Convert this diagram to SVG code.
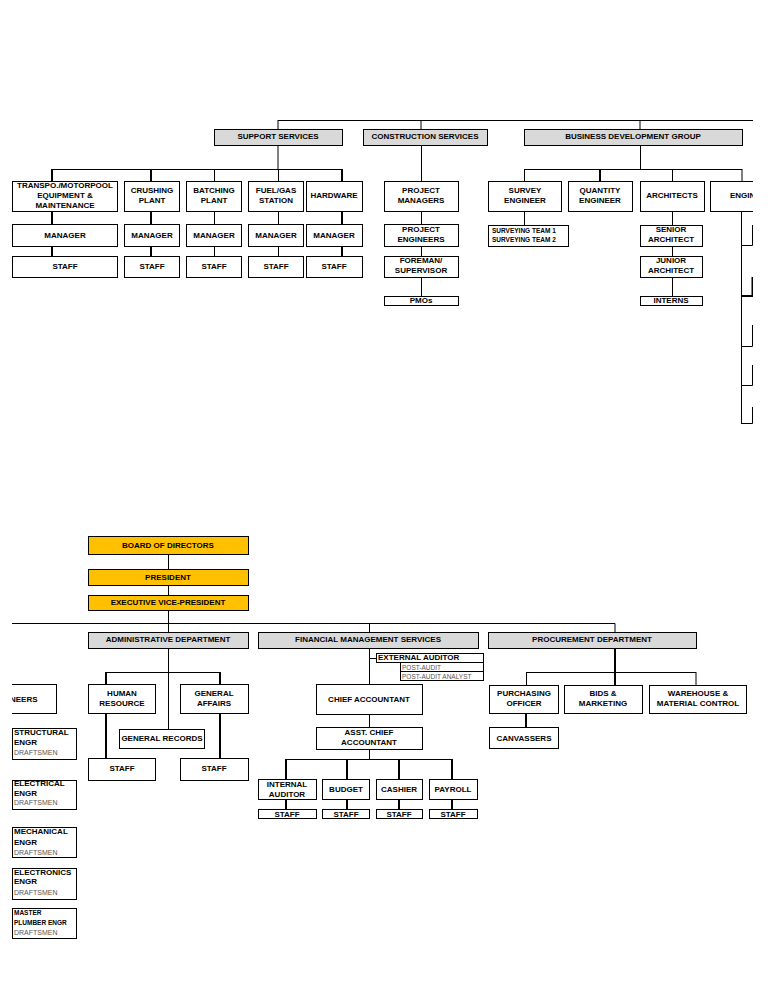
<svg xmlns="http://www.w3.org/2000/svg" width="768" height="1006" viewBox="0 0 768 1006">
<defs>
<clipPath id="clipTop"><rect x="0" y="100" width="753" height="340"/></clipPath>
<clipPath id="clipBot"><rect x="12" y="520" width="756" height="440"/></clipPath>
<style>
.b{fill:#fff;stroke:#000;stroke-width:1}
.g{fill:#d9d9d9;stroke:#000;stroke-width:1}
.y{fill:#ffc000;stroke:#000;stroke-width:1}
.t{font-family:"Liberation Sans",Arial,Helvetica,sans-serif;font-weight:bold;font-size:8px;text-anchor:middle;fill:#000}
.l{text-anchor:start}
.s{font-size:6.5px}
.gr{font-family:"Liberation Sans",Arial,Helvetica,sans-serif;font-size:7px;fill:#555;text-anchor:start}
.c path{fill:none;stroke:#000;stroke-width:1}
.c path.k{stroke-width:2}
</style>
</defs>
<rect width="768" height="1006" fill="#fff"/>

<g id="top" clip-path="url(#clipTop)">
<g id="connectors-top" class="c">
<path d="M278,120.5H753M278,120V129M421,120V129M640,120V129"/>
<path d="M278,145V169M52,169.5H342"/>
<path class="k" d="M52,169V181M52,211V224M52,246V256"/>
<path class="k" d="M151,169V181M151,211V224M151,246V256"/>
<path d="M214.5,169V181M214.5,211V224M214.5,246V256"/>
<path d="M278.5,169V181M278.5,211V224M278.5,246V256"/>
<path class="k" d="M342,169V181M342,211V224M342,246V256"/>
<path d="M421.5,145V181M421.5,211V224M421.5,246V256M421.5,277V297"/>
<path d="M640.5,145V169M524,169.5H742M524.5,169V181M672.5,169V181M742,169V181"/>
<path class="k" d="M600,169V181"/>
<path d="M524.5,211V225M672.5,211V225M672.5,246V256M672.5,277V297"/>
<path d="M741.5,211V423.5"/>
<path d="M741,245.5H752.5V225M741,346.5H752.5V325M741,385.5H752.5V365M741,423.5H752.5V407"/>
<path class="k" d="M741,296H752.5V277"/>
</g>

<g id="support-services"><rect class="g" x="214.5" y="129.5" width="128" height="16"/><text class="t" x="278" y="139">SUPPORT SERVICES</text></g>
<g id="construction-services"><rect class="g" x="363.5" y="129.5" width="124" height="16"/><text class="t" x="425" y="139">CONSTRUCTION SERVICES</text></g>
<g id="business-development"><rect class="g" x="524.5" y="129.5" width="218" height="16"/><text class="t" x="633" y="139">BUSINESS DEVELOPMENT GROUP</text></g>

<g id="transpo"><rect class="b" x="12.5" y="181.5" width="105" height="30"/><text class="t" x="65" y="188">TRANSPO./MOTORPOOL</text><text class="t" x="65" y="198">EQUIPMENT &amp;</text><text class="t" x="65" y="208">MAINTENANCE</text></g>
<g id="crushing"><rect class="b" x="124.5" y="181.5" width="55" height="30"/><text class="t" x="152" y="193">CRUSHING</text><text class="t" x="152" y="203">PLANT</text></g>
<g id="batching"><rect class="b" x="186.5" y="181.5" width="55" height="30"/><text class="t" x="214" y="193">BATCHING</text><text class="t" x="214" y="203">PLANT</text></g>
<g id="fuel"><rect class="b" x="248.5" y="181.5" width="55" height="30"/><text class="t" x="276" y="193">FUEL/GAS</text><text class="t" x="276" y="203">STATION</text></g>
<g id="hardware"><rect class="b" x="306.5" y="181.5" width="56" height="30"/><text class="t" x="334" y="198">HARDWARE</text></g>

<g id="mgr-transpo"><rect class="b" x="12.5" y="224.5" width="105" height="22"/><text class="t" x="65" y="238">MANAGER</text></g>
<g id="mgr-crushing"><rect class="b" x="124.5" y="224.5" width="55" height="22"/><text class="t" x="152" y="238">MANAGER</text></g>
<g id="mgr-batching"><rect class="b" x="186.5" y="224.5" width="55" height="22"/><text class="t" x="214" y="238">MANAGER</text></g>
<g id="mgr-fuel"><rect class="b" x="248.5" y="224.5" width="55" height="22"/><text class="t" x="276" y="238">MANAGER</text></g>
<g id="mgr-hardware"><rect class="b" x="306.5" y="224.5" width="56" height="22"/><text class="t" x="334" y="238">MANAGER</text></g>

<g id="staff-transpo"><rect class="b" x="12.5" y="256.5" width="105" height="21"/><text class="t" x="65" y="269">STAFF</text></g>
<g id="staff-crushing"><rect class="b" x="124.5" y="256.5" width="55" height="21"/><text class="t" x="152" y="269">STAFF</text></g>
<g id="staff-batching"><rect class="b" x="186.5" y="256.5" width="55" height="21"/><text class="t" x="214" y="269">STAFF</text></g>
<g id="staff-fuel"><rect class="b" x="248.5" y="256.5" width="55" height="21"/><text class="t" x="276" y="269">STAFF</text></g>
<g id="staff-hardware"><rect class="b" x="306.5" y="256.5" width="56" height="21"/><text class="t" x="334" y="269">STAFF</text></g>

<g id="project-managers"><rect class="b" x="384.5" y="181.5" width="74" height="30"/><text class="t" x="421" y="193">PROJECT</text><text class="t" x="421" y="203">MANAGERS</text></g>
<g id="project-engineers"><rect class="b" x="384.5" y="224.5" width="74" height="22"/><text class="t" x="421" y="232">PROJECT</text><text class="t" x="421" y="242">ENGINEERS</text></g>
<g id="foreman"><rect class="b" x="384.5" y="256.5" width="74" height="21"/><text class="t" x="421" y="263">FOREMAN/</text><text class="t" x="421" y="273">SUPERVISOR</text></g>
<g id="pmos"><rect class="b" x="384.5" y="296.5" width="74" height="9"/><text class="t" x="421" y="303">PMOs</text></g>

<g id="survey-engineer"><rect class="b" x="488.5" y="181.5" width="73" height="30"/><text class="t" x="525" y="193">SURVEY</text><text class="t" x="525" y="203">ENGINEER</text></g>
<g id="quantity-engineer"><rect class="b" x="568.5" y="181.5" width="64" height="30"/><text class="t" x="600" y="193">QUANTITY</text><text class="t" x="600" y="203">ENGINEER</text></g>
<g id="architects"><rect class="b" x="640.5" y="181.5" width="64" height="30"/><text class="t" x="672" y="198">ARCHITECTS</text></g>
<g id="engineers-top"><rect class="b" x="710.5" y="181.5" width="90" height="30"/><text class="t l" x="730" y="198">ENGIN</text></g>

<g id="surveying-teams"><rect class="b" x="488.5" y="225.5" width="80" height="21"/><text class="t s l" x="492" y="233">SURVEYING TEAM 1</text><text class="t s l" x="492" y="242">SURVEYING TEAM 2</text></g>
<g id="senior-architect"><rect class="b" x="640.5" y="225.5" width="62" height="21"/><text class="t" x="671" y="232">SENIOR</text><text class="t" x="671" y="242">ARCHITECT</text></g>
<g id="junior-architect"><rect class="b" x="640.5" y="256.5" width="62" height="21"/><text class="t" x="671" y="263">JUNIOR</text><text class="t" x="671" y="273">ARCHITECT</text></g>
<g id="interns"><rect class="b" x="640.5" y="296.5" width="62" height="9"/><text class="t" x="671" y="303">INTERNS</text></g>
</g>

<g id="bottom" clip-path="url(#clipBot)">
<g id="connectors-bottom" class="c">
<path d="M168.5,554V569M168.5,585V595M168.5,610V633"/>
<path d="M12,623.5H615V633M369.5,623V633"/>
<path d="M168.5,648V730M106,672.5H220"/>
<path class="k" d="M106,672V758M220,672V758"/>
<path d="M369.5,648V684M369,658.5H376M369.5,714V727M369.5,749V759M286,759.5H452"/>
<path class="k" d="M286,759V779M347,759V779M399,759V779M452,759V779M286,799V809M347,799V809M399,799V809M452,799V809"/>
<path class="k" d="M615,648V685"/>
<path d="M526,672.5H696M526.5,672V685M696,672V685"/>
<path class="k" d="M526,713V727"/>
</g>

<g id="board"><rect class="y" x="88.5" y="536.5" width="160" height="18"/><text class="t" x="168" y="548">BOARD OF DIRECTORS</text></g>
<g id="president"><rect class="y" x="88.5" y="569.5" width="160" height="16"/><text class="t" x="168" y="580">PRESIDENT</text></g>
<g id="evp"><rect class="y" x="88.5" y="595.5" width="160" height="15"/><text class="t" x="168" y="605">EXECUTIVE VICE-PRESIDENT</text></g>

<g id="admin-dept"><rect class="g" x="88.5" y="632.5" width="160" height="16"/><text class="t" x="168" y="642">ADMINISTRATIVE DEPARTMENT</text></g>
<g id="financial"><rect class="g" x="258.5" y="632.5" width="220" height="16"/><text class="t" x="368" y="642">FINANCIAL MANAGEMENT SERVICES</text></g>
<g id="procurement"><rect class="g" x="488.5" y="632.5" width="208" height="16"/><text class="t" x="592" y="642">PROCUREMENT DEPARTMENT</text></g>

<g id="human-resource"><rect class="b" x="88.5" y="684.5" width="67" height="29"/><text class="t" x="122" y="696">HUMAN</text><text class="t" x="122" y="706">RESOURCE</text></g>
<g id="general-affairs"><rect class="b" x="180.5" y="684.5" width="68" height="29"/><text class="t" x="214" y="696">GENERAL</text><text class="t" x="214" y="706">AFFAIRS</text></g>
<g id="general-records"><rect class="b" x="119.5" y="729.5" width="85" height="19"/><text class="t" x="162" y="741">GENERAL RECORDS</text></g>
<g id="staff-hr"><rect class="b" x="88.5" y="758.5" width="67" height="22"/><text class="t" x="122" y="771">STAFF</text></g>
<g id="staff-ga"><rect class="b" x="180.5" y="758.5" width="68" height="22"/><text class="t" x="214" y="771">STAFF</text></g>

<g id="engineers-bottom"><rect class="b" x="4.5" y="684.5" width="52" height="29"/><text class="t l" x="10" y="702">NEERS</text></g>
<g id="structural"><rect class="b" x="12.5" y="728.5" width="64" height="31"/><text class="t l" x="14" y="735">STRUCTURAL</text><text class="t l" x="14" y="745">ENGR</text><text class="gr" x="14" y="755">DRAFTSMEN</text></g>
<g id="electrical"><rect class="b" x="12.5" y="780.5" width="64" height="29"/><text class="t l" x="14" y="786">ELECTRICAL</text><text class="t l" x="14" y="796">ENGR</text><text class="gr" x="14" y="805">DRAFTSMEN</text></g>
<g id="mechanical"><rect class="b" x="12.5" y="827.5" width="64" height="30"/><text class="t l" x="14" y="834">MECHANICAL</text><text class="t l" x="14" y="845">ENGR</text><text class="gr" x="14" y="855">DRAFTSMEN</text></g>
<g id="electronics"><rect class="b" x="12.5" y="868.5" width="64" height="31"/><text class="t l" x="14" y="875">ELECTRONICS</text><text class="t l" x="14" y="884">ENGR</text><text class="gr" x="14" y="895">DRAFTSMEN</text></g>
<g id="plumber"><rect class="b" x="12.5" y="908.5" width="64" height="30"/><text class="t s l" x="14" y="915">MASTER</text><text class="t s l" x="14" y="925">PLUMBER ENGR</text><text class="gr" x="14" y="935">DRAFTSMEN</text></g>

<g id="external-auditor"><rect class="b" x="376.5" y="653.5" width="107" height="9"/><text class="t l" x="378" y="660">EXTERNAL AUDITOR</text></g>
<g id="post-audit"><rect class="b" x="400.5" y="662.5" width="83" height="9"/><text class="gr" x="402" y="669.5" style="font-size:6.5px">POST-AUDIT</text></g>
<g id="post-audit-analyst"><rect class="b" x="400.5" y="671.5" width="83" height="9"/><text class="gr" x="402" y="678.5" style="font-size:6.5px">POST-AUDIT ANALYST</text></g>
<g id="chief-accountant"><rect class="b" x="316.5" y="684.5" width="106" height="30"/><text class="t" x="369" y="702">CHIEF ACCOUNTANT</text></g>
<g id="asst-chief"><rect class="b" x="316.5" y="727.5" width="106" height="22"/><text class="t" x="369" y="735">ASST. CHIEF</text><text class="t" x="369" y="745">ACCOUNTANT</text></g>
<g id="internal-auditor"><rect class="b" x="258.5" y="779.5" width="58" height="20"/><text class="t" x="287" y="787">INTERNAL</text><text class="t" x="287" y="797">AUDITOR</text></g>
<g id="budget"><rect class="b" x="322.5" y="779.5" width="47" height="20"/><text class="t" x="346" y="792">BUDGET</text></g>
<g id="cashier"><rect class="b" x="376.5" y="779.5" width="46" height="20"/><text class="t" x="399" y="792">CASHIER</text></g>
<g id="payroll"><rect class="b" x="429.5" y="779.5" width="48" height="20"/><text class="t" x="453" y="792">PAYROLL</text></g>
<g id="staff-ia"><rect class="b" x="258.5" y="809.5" width="58" height="9"/><text class="t" x="287" y="816.5">STAFF</text></g>
<g id="staff-budget"><rect class="b" x="322.5" y="809.5" width="47" height="9"/><text class="t" x="346" y="816.5">STAFF</text></g>
<g id="staff-cashier"><rect class="b" x="376.5" y="809.5" width="46" height="9"/><text class="t" x="399" y="816.5">STAFF</text></g>
<g id="staff-payroll"><rect class="b" x="429.5" y="809.5" width="48" height="9"/><text class="t" x="453" y="816.5">STAFF</text></g>

<g id="purchasing"><rect class="b" x="489.5" y="685.5" width="69" height="28"/><text class="t" x="524" y="696">PURCHASING</text><text class="t" x="524" y="706">OFFICER</text></g>
<g id="bids"><rect class="b" x="564.5" y="685.5" width="78" height="28"/><text class="t" x="603" y="696">BIDS &amp;</text><text class="t" x="603" y="706">MARKETING</text></g>
<g id="warehouse"><rect class="b" x="649.5" y="685.5" width="97" height="28"/><text class="t" x="698" y="696">WAREHOUSE &amp;</text><text class="t" x="698" y="706">MATERIAL CONTROL</text></g>
<g id="canvassers"><rect class="b" x="489.5" y="727.5" width="69" height="21"/><text class="t" x="524" y="741">CANVASSERS</text></g>
</g>
</svg>
